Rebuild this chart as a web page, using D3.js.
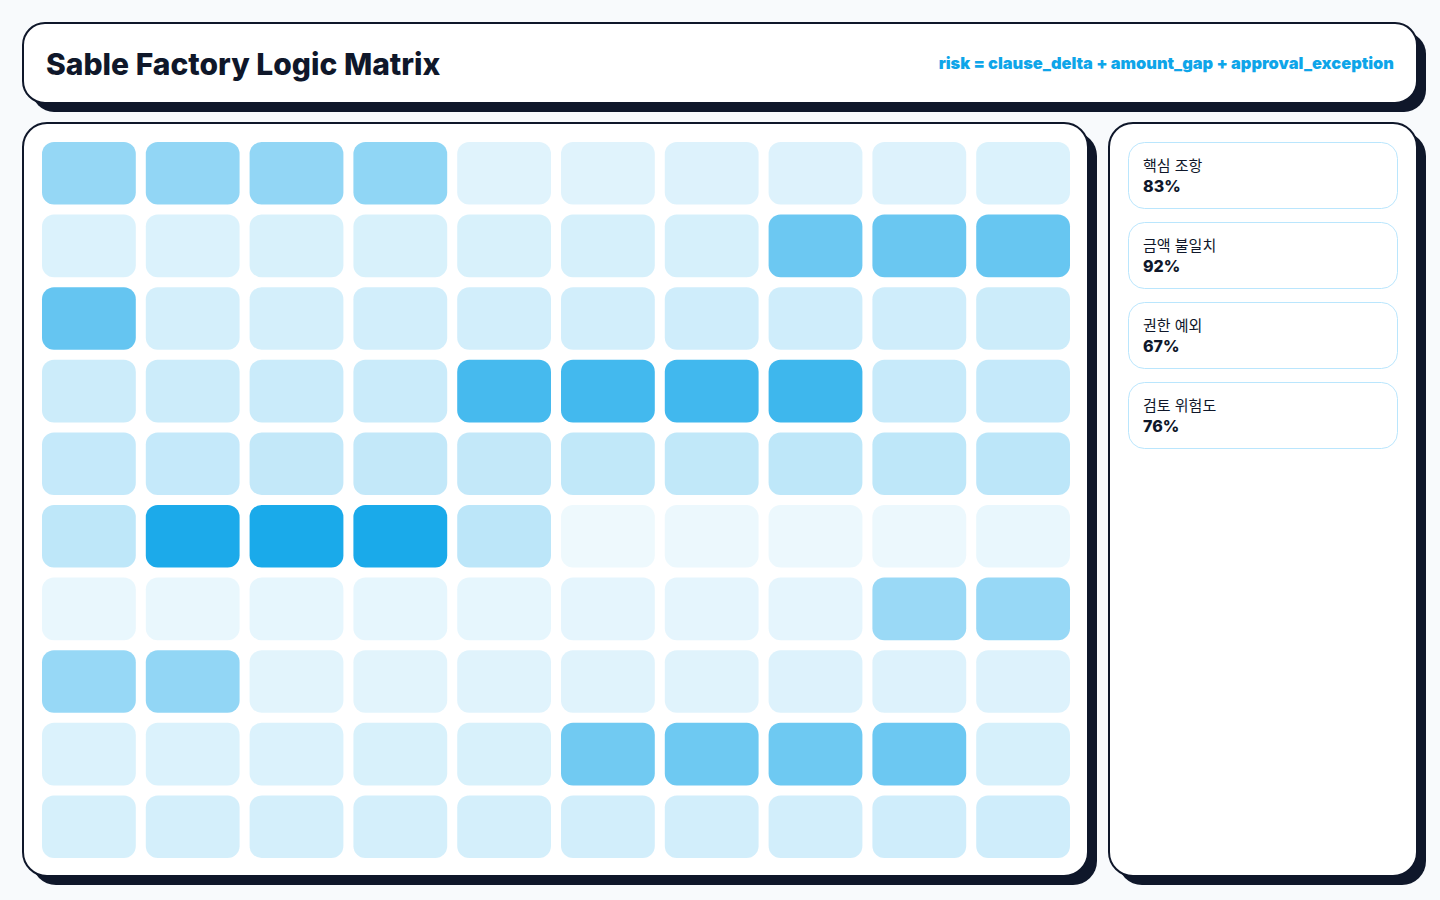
<!DOCTYPE html>
<html>
<head>
<meta charset="utf-8">
<script src="https://cdn.jsdelivr.net/npm/d3@7"></script>
<style>
  html, body { margin: 0; padding: 0; background: #f8fafc; }
  svg { display: block; font-family: "Inter", "Noto Sans CJK KR", sans-serif; }
</style>
</head>
<body>
<svg id="chart" width="1440" height="900"></svg>
<script>
const title = "Sable Factory Logic Matrix";
const formula = "risk = clause_delta + amount_gap + approval_exception";
const rows = d3.range(10);
const cols = d3.range(10);
const riskValues = [
  [0.44,0.45,0.45,0.46,0.13,0.13,0.14,0.14,0.14,0.15],
  [0.15,0.15,0.16,0.16,0.16,0.17,0.17,0.61,0.62,0.63],
  [0.64,0.18,0.18,0.19,0.19,0.19,0.20,0.20,0.20,0.21],
  [0.21,0.21,0.22,0.22,0.77,0.78,0.79,0.80,0.23,0.24],
  [0.24,0.24,0.25,0.25,0.25,0.26,0.26,0.27,0.27,0.28],
  [0.27,0.94,0.95,0.95,0.28,0.07,0.08,0.08,0.08,0.09],
  [0.09,0.09,0.10,0.10,0.10,0.11,0.11,0.11,0.42,0.43],
  [0.43,0.45,0.12,0.12,0.13,0.13,0.13,0.14,0.14,0.14],
  [0.15,0.15,0.15,0.16,0.16,0.59,0.60,0.60,0.61,0.17],
  [0.17,0.18,0.18,0.18,0.18,0.19,0.19,0.19,0.20,0.20]
];
const metricLabels = ["핵심 조항", "금액 불일치", "권한 예외", "검토 위험도"];
const metricValues = [83, 92, 67, 76];

const ink = "#0f172a";
const accent = "#0ea5e9";
const svg = d3.select("#chart");

function card(g, x, y, w, h, r, off) {
  g.append("rect").attr("x", x + off).attr("y", y + off).attr("width", w).attr("height", h)
    .attr("rx", r).attr("fill", ink);
  g.append("rect").attr("x", x).attr("y", y).attr("width", w).attr("height", h)
    .attr("rx", r).attr("fill", "#fff").attr("stroke", ink).attr("stroke-width", 2);
}

// Header
const header = svg.append("g");
card(header, 23, 23, 1394, 80, 22, 9);
header.append("text").attr("x", 46).attr("y", 75).attr("fill", ink)
  .attr("font-size", 30).attr("font-weight", 800).text(title);
header.append("text").attr("x", 1394).attr("y", 69).attr("text-anchor", "end").attr("fill", accent)
  .attr("font-size", 16.4).attr("font-weight", 900).text(formula);

// Main panel
const main = svg.append("g");
card(main, 23, 123, 1065, 753, 24, 9);
const x = d3.scaleBand().domain(cols).range([42, 1070]).paddingInner(100 / 1038);
const y = d3.scaleBand().domain(rows).range([142, 858]).paddingInner(100 / 726);
const opacity = d3.scaleLinear().domain([0, 1]).range([0, 1]);
const cells = [];
rows.forEach(r => cols.forEach(c => cells.push({ r, c, v: riskValues[r][c] })));
main.append("g").selectAll("rect").data(cells).join("rect")
  .attr("x", d => x(d.c)).attr("y", d => y(d.r))
  .attr("width", x.bandwidth()).attr("height", y.bandwidth())
  .attr("rx", 12)
  .attr("fill", accent).attr("fill-opacity", d => opacity(d.v));

// Side panel
const side = svg.append("g");
card(side, 1109, 123, 308, 753, 24, 9);
const ys = d3.scaleBand().domain(d3.range(metricLabels.length)).range([142, 142 + 80 * 4 - 13]).paddingInner(13 / 80);
const mg = side.selectAll("g.metric").data(metricLabels.map((l, i) => ({ l, v: metricValues[i], i })))
  .join("g").attr("class", "metric").attr("transform", d => `translate(1128,${ys(d.i)})`);
mg.append("rect").attr("x", 0.5).attr("y", 0.5).attr("width", 269).attr("height", 67 - 1)
  .attr("rx", 16).attr("fill", "#fff").attr("stroke", "#bae6fd").attr("stroke-width", 1);
mg.append("text").attr("x", 15).attr("y", 29).attr("fill", ink).attr("font-size", 15).text(d => d.l);
mg.append("text").attr("x", 15).attr("y", 50).attr("fill", ink).attr("font-size", 16)
  .attr("font-weight", 800).text(d => d.v + "%");
</script>
</body>
</html>
